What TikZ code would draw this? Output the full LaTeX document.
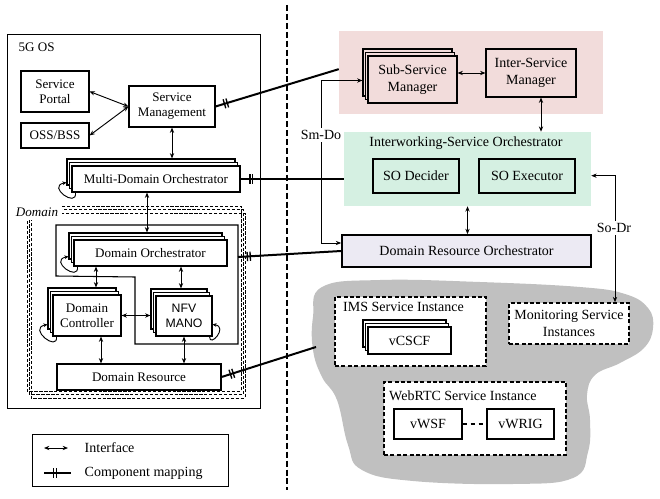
\documentclass[tikz,border=0pt]{standalone}
\usepackage{fontspec}
\setmainfont{Liberation Serif}
\newfontfamily\nfvfont{Liberation Sans}
\usetikzlibrary{arrows.meta,calc,decorations.markings}

\definecolor{svcpink}{RGB}{242,220,219}
\definecolor{sogreen}{RGB}{213,240,226}
\definecolor{drolilac}{RGB}{236,234,243}
\definecolor{cloudgray}{RGB}{192,192,192}

\tikzset{
  box/.style={draw, fill=white, line width=0.8pt, align=center, inner sep=1pt},
  thickbox/.style={box, line width=1.3pt},
  dashbox/.style={draw, fill=white, align=center, inner sep=1pt, line width=1.1pt, dash pattern=on 3pt off 1.8pt},
  leftfont/.style={font=\fontsize{9.8}{11.3}\selectfont},
  iface/.style={<->, >={Stealth[length=4pt,width=3.2pt]}, line width=0.7pt},
  loopy/.style={->, >={Stealth[length=3pt,width=2.8pt]}, line width=0.7pt},
  cmap/.style={line width=1.5pt, postaction={decorate, decoration={markings,
      mark=at position 7pt with {\draw[line width=1pt] (0,-3.5pt) -- (0,3.5pt) (2.2pt,-3.5pt) -- (2.2pt,3.5pt);}}}},
}

% three stacked copies: name, position, options, text
\newcommand\stackbox[4]{%
  \node[box,#3] (#1-2) at ($#2+(-5,-7)$) {};
  \node[box,#3] (#1-1) at ($#2+(-2.5,-3.5)$) {};
  \node[box,#3] (#1) at #2 {#4};
}

\begin{document}
\begin{tikzpicture}[x=0.75pt, y=-0.75pt, font=\fontsize{10.5}{12.5}\selectfont]
  \useasboundingbox (0,0) rectangle (660,499);

  % 5G OS side
  \draw[line width=0.7pt] (7,34) rectangle (260,408);
  \node[anchor=west, leftfont] (os) at (14,47) {5G OS};
  \foreach \k in {2,1,0}
    \draw[line width=0.7pt, dash pattern=on 2.5pt off 1.2pt] (31-2*\k,213-3.5*\k) rectangle (245-2*\k,398-3.5*\k);
  \node[fill=white, inner sep=3pt, font=\itshape\fontsize{9.8}{11}\selectfont] (domlbl) at (37,212) {Domain};
  \draw[line width=0.8pt] (56,225) -- (238,225) -- (238,344) -- (135,344) -- (135,277) -- (56,276) -- cycle;
  \coordinate (grp-e) at (238,257);

  \node[box, leftfont, minimum width=51pt, minimum height=30.75pt] (sp) at (55,91.5) {Service\\Portal};
  \node[box, leftfont, minimum width=51pt, minimum height=18.75pt] (oss) at (55,135.5) {OSS/BSS};
  \node[box, leftfont, minimum width=64.5pt, minimum height=30.75pt] (sm) at (172,106.5) {Service\\Management};
  \stackbox{mdo}{(156,179)}{leftfont, minimum width=126pt, minimum height=19.5pt}{Multi-Domain Orchestrator}
  \stackbox{dorch}{(150.5,253)}{leftfont, minimum width=114.75pt, minimum height=19.5pt}{Domain Orchestrator}
  \stackbox{dc}{(87,315.5)}{leftfont, minimum width=51pt, minimum height=30.75pt}{Domain\\Controller}
  \stackbox{nfv}{(184,316)}{font=\nfvfont\fontsize{9.2}{11.3}\selectfont, minimum width=42pt, minimum height=30pt}{NFV\\MANO}
  \node[box, leftfont, minimum width=123pt, minimum height=19.5pt] (dr) at (139,377) {Domain Resource};

  \draw[iface] (sp.east) -- (sm.west);
  \draw[iface] (oss.east) -- (sm.west);
  \draw[iface] (sm.south) -- (sm.south |- mdo-2.north);
  \draw[iface] (147,0 |- mdo.south) -- (147,0 |- dorch-2.north);
  \draw[iface] (96,0 |- dorch.south) -- (96,0 |- dc-2.north);
  \draw[iface] (181,0 |- dorch.south) -- (181,0 |- nfv-2.north);
  \draw[iface] (dc.east) -- (nfv-2.west |- dc.east);
  \draw[iface] (101,0 |- dc.south) -- (101,0 |- dr.north);
  \draw[iface] (184,0 |- nfv.south) -- (184,0 |- dr.north);

  \draw[loopy] ($(mdo.south west)+(4,0)$) .. controls +(2,16) and +(-20,4) .. ($(mdo.south west)+(-5,-10)$);
  \draw[loopy] ($(dorch.south west)+(4,0)$) .. controls +(2,16) and +(-20,4) .. ($(dorch.south west)+(-5,-10)$);
  \draw[loopy] ($(dc.south west)+(4,0)$) .. controls +(2,16) and +(-20,4) .. ($(dc.south west)+(-5,-12)$);
  \draw[loopy] ($(nfv.south east)+(-3,0)$) .. controls +(0,12) and +(16,2) .. ($(nfv.south east)+(0,-12)$);

  % service side
  \node[minimum width=198pt, minimum height=62.25pt, fill=svcpink] (svcbg) at (471,72.5) {};
  \node[minimum width=185.25pt, minimum height=55.5pt, fill=sogreen] (isobg) at (467.5,169) {};
  \node (isolbl) at (466,143) {Interworking-Service Orchestrator};
  \stackbox{ssm}{(412.5,79.5)}{fill=svcpink, minimum width=66.75pt, minimum height=35.25pt}{Sub-Service\\Manager}
  \node[box, fill=svcpink, minimum width=67.5pt, minimum height=36pt] (ism) at (531,73) {Inter-Service\\Manager};
  \node[thickbox, fill=sogreen, minimum width=64.5pt, minimum height=25.5pt] (sod) at (416,176) {SO Decider};
  \node[thickbox, fill=sogreen, minimum width=72pt, minimum height=25.5pt] (soe) at (527,176) {SO Executor};
  \node[thickbox, fill=drolilac, minimum width=186.75pt, minimum height=24pt] (dro) at (466.5,251) {Domain Resource Orchestrator};

  \fill[cloudgray] plot[smooth cycle, tension=0.7] coordinates {(322,287) (380,280) (480,282) (580,287) (625,294) (648,308) (653,328) (644,348) (620,363) (595,375) (587,395) (590,420) (588,452) (573,478) (513,484) (413,481) (362,470) (348,445) (337,400) (322,377) (313,350) (313,317)};
  \coordinate (cloud-w) at (316,347);
  \node[dashbox, minimum width=113.25pt, minimum height=51.75pt] (ims) at (410.5,331.5) {};
  \node[anchor=west] (imslbl) at (338.5,307) {IMS Service Instance};
  \stackbox{vcscf}{(409.5,340.5)}{minimum width=62.25pt, minimum height=20.25pt}{vCSCF}
  \node[dashbox, minimum width=90pt, minimum height=30.75pt] (mon) at (569,323.5) {Monitoring Service\\Instances};
  \node[dashbox, minimum width=136.5pt, minimum height=54.75pt] (web) at (475,418.5) {};
  \node[anchor=west] (weblbl) at (384.5,396) {WebRTC Service Instance};
  \node[box, line width=1.1pt, minimum width=51pt, minimum height=22.5pt] (vwsf) at (428,424) {vWSF};
  \node[box, line width=1.1pt, minimum width=50.25pt, minimum height=22.5pt] (vwrig) at (520.5,424) {vWRIG};
  \draw[dashed, line width=0.8pt] (vwsf) -- (vwrig);

  \draw[iface] (ssm.east |- ism.west) -- (ism.west);
  \draw[iface] ([xshift=7.5pt]ism.south) -- ([xshift=7.5pt]ism.south |- isobg.north);
  \draw[iface] (isobg.south) -- (isobg.south |- dro.north);
  \draw[iface] ([yshift=-6pt]ssm-2.west) -| ([xshift=-15pt,yshift=6pt]dro.west) -- ([yshift=6pt]dro.west);
  \draw[iface] ([yshift=-5pt]isobg.east) -| ([xshift=34.5pt]mon.north);
  \node[fill=white, inner sep=2pt] (smdo) at (321,135) {Sm-Do};
  \node[fill=white, inner sep=2pt] (sodr) at (614,228) {So-Dr};

  % divider and component mappings
  \draw[line width=1.4pt, dash pattern=on 4.5pt off 2.2pt] (287,5) -- (287,490);
  \draw[cmap] (sm.east) -- ([yshift=2.5pt]svcbg.west);
  \draw[cmap] (mdo.east) -- (mdo.east -| isobg.west);
  \draw[cmap] (grp-e) -- (dro.west);
  \draw[cmap] (dr.east) -- (cloud-w);

  % legend
  \draw[line width=0.7pt] (32,434) rectangle (228,486);
  \node[anchor=west] (lg-if) at (80,448) {Interface};
  \node[anchor=west] (lg-cm) at (80,473) {Component mapping};
  \draw[iface] ([xshift=-27pt]lg-if.west) -- ([xshift=-9pt]lg-if.west);
  \draw[cmap] ([xshift=-27pt]lg-cm.west) -- ([xshift=-7pt]lg-cm.west);
\end{tikzpicture}
\end{document}
